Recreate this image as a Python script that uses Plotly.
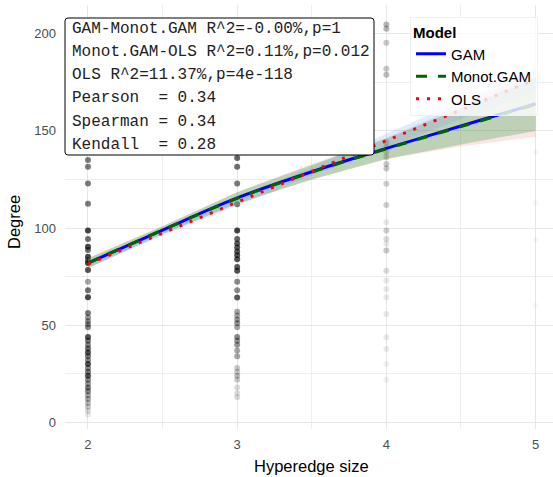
import plotly.graph_objects as go

# ---------------- data ----------------
# scatter points: hyperedge size, degree value, number of overlapping observations
x2_deg = [135, 131.6, 123, 112.5, 98.7, 94.4, 90.4, 88.7, 85.3, 83.5, 82, 78.4, 72.4, 68, 64.4,
          56.3, 54, 52, 50.5, 49, 44, 42, 40, 38, 36, 34, 32, 30, 28, 26, 24, 22, 20, 18, 16,
          14, 12, 10, 8, 6, 4]
x2_cnt = [24, 24, 24, 24, 44, 27, 41, 27, 41, 27, 44, 37, 14, 27, 41,
          24, 17, 17, 17, 20, 37, 24, 20, 27, 37, 24, 20, 37, 20, 24, 37, 20, 17, 24, 20,
          14, 14, 10, 8, 5, 3]
x3_deg = [205, 196, 183, 180, 160, 145, 140, 136, 131.5, 123, 112.3, 98.7, 94.4, 92, 90, 88, 86,
          84, 80, 78, 72.4, 68, 64.3, 57, 55, 53, 51, 49, 44, 42, 40, 37, 34, 28, 26, 24, 22,
          18, 15, 13]
x3_cnt = [10, 10, 10, 10, 10, 17, 17, 30, 27, 24, 24, 44, 30, 34, 34, 34, 37,
          37, 34, 37, 20, 20, 34, 14, 14, 17, 17, 14, 20, 17, 17, 14, 14, 8, 8, 10, 8,
          5, 5, 5]
x4_deg = [204.8, 202.6, 195.4, 182, 178.9, 144.2, 141.6, 139, 136.5, 133, 130.6, 122.8, 111.9,
          103, 98.7, 94.4, 91.9, 88.4, 78.1, 73, 68.7, 64.4, 55.8, 43.8, 37.8, 30, 22]
x4_cnt = [11, 11, 8, 8, 10, 8, 7, 7, 7, 8, 8, 7, 7,
          3, 7, 5, 3, 8, 5, 3, 3, 3, 3, 3, 3, 2, 2]
x5_deg = [139, 113, 94, 60]
x5_cnt = [1, 1, 1, 1]

# fitted curves
fit_x = [2, 2.5, 3, 3.5, 4, 4.5, 5]
gam_y = [82, 99, 115.5, 129, 141, 152.5, 164]
gam_lo = [79.5, 97, 112.5, 125, 135.5, 142, 147]
gam_hi = [84.5, 101, 118.5, 133, 146.5, 163, 181]
mono_y = [82, 99, 115.3, 128.8, 140.8, 152.2, 163.6]
mono_lo = [79.5, 97, 112.5, 125, 135.5, 143, 150]
mono_hi = [84.5, 101, 118.5, 132.5, 146, 161.5, 177.5]
ols_y = [81.5, 97.5, 113.3, 129.2, 145, 160.8, 176.6]
ols_lo = [79.5, 96, 111.5, 127, 141.5, 156, 170.5]
ols_hi = [83.5, 99, 115, 131.5, 148.5, 165.5, 182.5]

x_ticks = [2, 3, 4, 5]
y_ticks = [0, 50, 100, 150, 200]

stats_lines = [
    "GAM-Monot.GAM R^2=-0.00%,p=1",
    "Monot.GAM-OLS R^2=0.11%,p=0.012",
    "OLS R^2=11.37%,p=4e-118",
    "Pearson  = 0.34",
    "Spearman = 0.34",
    "Kendall  = 0.28",
]

# ---------------- figure ----------------
W, H = 553, 477
ML, MR, MT, MB = 65, 0, 5, 48
PW, PH = W - ML - MR, H - MT - MB

def px_x(p):
    return (p - ML) / PW

def px_y(p):
    return (H - MB - p) / PH

fig = go.Figure()

ALPHA = 0.03
for xv, degs, cnts in [(2, x2_deg, x2_cnt), (3, x3_deg, x3_cnt), (4, x4_deg, x4_cnt), (5, x5_deg, x5_cnt)]:
    cols = [f"rgba(0,0,0,{1 - (1 - ALPHA) ** c:.3f})" for c in cnts]
    fig.add_trace(go.Scatter(x=[xv] * len(degs), y=degs, mode="markers",
                             marker=dict(size=6, color=cols, line=dict(width=0)),
                             showlegend=False, hoverinfo="skip"))

ribbons = [(gam_lo, gam_hi, "rgba(248,118,109,0.2)"),
           (mono_lo, mono_hi, "rgba(0,150,50,0.25)"),
           (ols_lo, ols_hi, "rgba(97,156,255,0.2)")]
for lo, hi, col in ribbons:
    fig.add_trace(go.Scatter(x=fit_x + fit_x[::-1], y=hi + lo[::-1], fill="toself",
                             fillcolor=col, line=dict(width=0), mode="lines",
                             showlegend=False, hoverinfo="skip"))

fig.add_trace(go.Scatter(x=fit_x, y=gam_y, mode="lines", name="GAM",
                         line=dict(color="blue", width=3, shape="spline")))
fig.add_trace(go.Scatter(x=fit_x, y=mono_y, mode="lines", name="Monot.GAM",
                         line=dict(color="darkgreen", width=3, dash="11px,11px", shape="spline")))
fig.add_trace(go.Scatter(x=fit_x, y=ols_y, mode="lines", name="OLS",
                         line=dict(color="red", width=3, dash="3px,8px")))

# stats box
x0, x1 = px_x(65), px_x(374)
y0, y1 = px_y(155), px_y(18)
rx, ry = 3 / PW, 3 / PH
path = (f"M {x0+rx},{y1} L {x1-rx},{y1} Q {x1},{y1} {x1},{y1-ry} "
        f"L {x1},{y0+ry} Q {x1},{y0} {x1-rx},{y0} L {x0+rx},{y0} Q {x0},{y0} {x0},{y0+ry} "
        f"L {x0},{y1-ry} Q {x0},{y1} {x0+rx},{y1} Z")
fig.add_shape(type="path", path=path, xref="paper", yref="paper",
              fillcolor="white", line=dict(color="black", width=1), layer="above")
for i, t in enumerate(stats_lines):
    fig.add_annotation(text=t, xref="paper", yref="paper", x=px_x(70), y=px_y(28.5 + i * 23.33),
                       xanchor="left", yanchor="middle", showarrow=False,
                       font=dict(family="Liberation Mono, Courier New, monospace", size=16, color="#222"))

# axis titles
fig.add_annotation(text="Hyperedge size", xref="paper", yref="paper", x=px_x(311), y=px_y(466),
                   xanchor="center", yanchor="middle", showarrow=False,
                   font=dict(family="Liberation Sans, Arial", size=16.5, color="black"))
fig.add_annotation(text="Degree", xref="paper", yref="paper", x=px_x(14), y=px_y(222),
                   xanchor="center", yanchor="middle", showarrow=False, textangle=-90,
                   font=dict(family="Liberation Sans, Arial", size=16.5, color="black"))

axis_font = dict(family="Liberation Sans, Arial", size=13, color="#4d4d4d")
fig.update_layout(
    width=W, height=H,
    margin=dict(l=ML, r=MR, t=MT, b=MB),
    plot_bgcolor="white", paper_bgcolor="white",
    xaxis=dict(range=[1.846, 5.117], tickvals=x_ticks, showgrid=True, gridcolor="#e6e6e6",
               gridwidth=1.4, zeroline=False, showline=False, ticks="", tickfont=axis_font,
               ticklabelstandoff=6,
               minor=dict(tickvals=[2.5, 3.5, 4.5], showgrid=True, gridcolor="#eeeeee", gridwidth=0.8)),
    yaxis=dict(range=[-3.4, 214.8], tickvals=y_ticks, showgrid=True, gridcolor="#e6e6e6",
               gridwidth=1.4, zeroline=False, showline=False, ticks="", tickfont=axis_font,
               ticklabelstandoff=8,
               minor=dict(tickvals=[25, 75, 125, 175], showgrid=True, gridcolor="#eeeeee", gridwidth=0.8)),
    legend=dict(x=px_x(410), y=px_y(17), xanchor="left", yanchor="top",
                bgcolor="rgba(255,255,255,0.8)", bordercolor="#f0f0f0", borderwidth=1,
                title=dict(text="<b>Model</b>", font=dict(family="Liberation Sans, Arial", size=15, color="black")),
                font=dict(family="Liberation Sans, Arial", size=15, color="black"),
                tracegroupgap=0),
    showlegend=True,
)

fig.write_html("out.html")
